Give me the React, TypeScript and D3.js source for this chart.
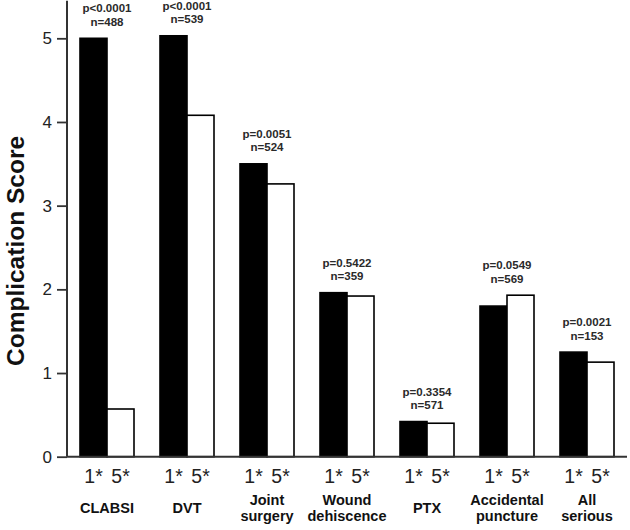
import { useEffect, useRef } from 'react'
import * as d3 from 'd3'

const CATEGORIES = ['CLABSI', 'DVT', 'Joint\nsurgery', 'Wound\ndehiscence', 'PTX', 'Accidental\npuncture', 'All\nserious']
const ONE_STAR = [5.0, 5.03, 3.5, 1.96, 0.42, 1.8, 1.25]
const FIVE_STAR = [0.57, 4.08, 3.26, 1.92, 0.4, 1.93, 1.13]
const P_VALUES = ['p<0.0001', 'p<0.0001', 'p=0.0051', 'p=0.5422', 'p=0.3354', 'p=0.0549', 'p=0.0021']
const N_VALUES = ['n=488', 'n=539', 'n=524', 'n=359', 'n=571', 'n=569', 'n=153']
const SERIES = ['1*', '5*']
const Y_TICKS = [0, 1, 2, 3, 4, 5]

const WIDTH = 630
const HEIGHT = 530
const X0 = 67
const X1 = 627
const Y_ZERO = 456.7
const Y_FIVE = 38.3

export default function App() {
  const yAxisRef = useRef<SVGGElement>(null)

  const x = d3.scaleBand<string>()
    .domain(CATEGORIES)
    .range([X0, X1])
    .paddingInner(0.325)
    .paddingOuter(0.1625)

  const inner = d3.scaleBand<string>()
    .domain(SERIES)
    .range([0, x.bandwidth()])

  const y = d3.scaleLinear().domain([0, 5]).range([Y_ZERO, Y_FIVE])

  useEffect(() => {
    if (!yAxisRef.current) return
    const g = d3.select(yAxisRef.current)
    g.selectAll('*').remove()
    g.call(
      d3.axisLeft(y)
        .tickValues(Y_TICKS)
        .tickSize(10)
        .tickSizeOuter(0)
        .tickPadding(5)
        .tickFormat(d => String(d))
    )
    g.select('.domain').remove()
    g.selectAll('.tick line').attr('stroke', '#333').attr('stroke-width', 1.8)
    g.selectAll('.tick text')
      .attr('fill', '#222')
      .attr('font-size', '17px')
      .attr('font-family', 'Liberation Sans, Arial, sans-serif')
  }, [])

  return (
    <svg
      width={WIDTH}
      height={HEIGHT}
      style={{ position: 'absolute', left: 0, top: 0, background: '#fff' }}
    >
      {/* bars */}
      {CATEGORIES.map((cat, i) => {
        const bx = x(cat) ?? 0
        const vals = [ONE_STAR[i], FIVE_STAR[i]]
        return (
          <g key={cat}>
            {SERIES.map((s, j) => (
              <rect
                key={s}
                x={bx + (inner(s) ?? 0)}
                y={y(vals[j])}
                width={inner.bandwidth()}
                height={Y_ZERO - y(vals[j])}
                fill={j === 0 ? '#000' : '#fff'}
                stroke="#000"
                strokeWidth={1.6}
              />
            ))}
          </g>
        )
      })}

      {/* axes */}
      <line x1={X0} x2={X0} y1={y(5.45)} y2={Y_ZERO} stroke="#333" strokeWidth={2} />
      <line x1={X0} x2={X1} y1={Y_ZERO} y2={Y_ZERO} stroke="#333" strokeWidth={2} />
      <g ref={yAxisRef} transform={`translate(${X0},0)`} />

      {/* annotations */}
      {CATEGORIES.map((cat, i) => {
        const cx = (x(cat) ?? 0) + x.bandwidth() / 2
        const top = y(Math.max(ONE_STAR[i], FIVE_STAR[i]))
        return (
          <g key={cat} fontFamily="Liberation Sans, Arial, sans-serif" fontWeight="bold" fontSize={11.5} fill="#2a2a2a" textAnchor="middle">
            <text x={cx} y={top - 26}>{P_VALUES[i]}</text>
            <text x={cx} y={top - 12.5}>{N_VALUES[i]}</text>
          </g>
        )
      })}

      {/* series labels under bars */}
      {CATEGORIES.map((cat, i) => (
        <g key={cat} fontFamily="Liberation Sans, Arial, sans-serif" fontSize={19.5} fill="#222" textAnchor="middle">
          {SERIES.map(s => (
            <text key={s} x={(x(cat) ?? 0) + (inner(s) ?? 0) + inner.bandwidth() / 2} y={483}>{s}</text>
          ))}
        </g>
      ))}

      {/* category labels */}
      {CATEGORIES.map(cat => {
        const cx = (x(cat) ?? 0) + x.bandwidth() / 2
        const lines = cat.split('\n')
        return (
          <text key={cat} x={cx} fontFamily="Liberation Sans, Arial, sans-serif" fontWeight="bold" fontSize={14.5} fill="#111" textAnchor="middle">
            {lines.length === 1
              ? <tspan x={cx} y={513}>{lines[0]}</tspan>
              : lines.map((l, k) => <tspan key={k} x={cx} y={505 + k * 15.5}>{l}</tspan>)}
          </text>
        )
      })}

      {/* y title */}
      <text
        transform="translate(24,251) rotate(-90)"
        textAnchor="middle"
        fontFamily="Liberation Sans, Arial, sans-serif"
        fontWeight="bold"
        fontSize={24.5}
        fill="#111"
      >
        Complication Score
      </text>
    </svg>
  )
}
